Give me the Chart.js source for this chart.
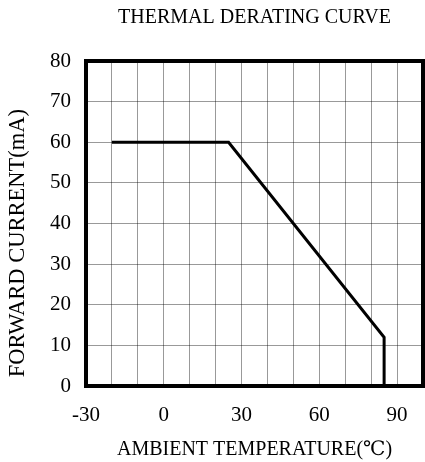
<!DOCTYPE html>
<html>
<head>
<meta charset="utf-8">
<script src="https://cdn.jsdelivr.net/npm/chart.js@4"></script>
<style>
  html, body { margin: 0; padding: 0; background: #fff; }
  #wrap { width: 425px; height: 462px; }
</style>
</head>
<body>
<div id="wrap"><canvas id="myChart"></canvas></div>
<script>
// curve points
var temps = [-20, 25, 85, 85];
var currents = [60, 60, 12, 0];
var xTickLabels = [-30, 0, 30, 60, 90];

var FONT = '"Liberation Serif", "DejaVu Serif", serif';

// thick frame round the plot area
const frame = {
  id: 'frame',
  afterDraw(chart) {
    const a = chart.chartArea;
    const c = chart.ctx;
    c.save();
    c.strokeStyle = '#000';
    c.lineWidth = 4;
    c.strokeRect(a.left, a.top, a.right - a.left, a.bottom - a.top);
    c.restore();
  },
};

const ctx = document.getElementById('myChart');
new Chart(ctx, {
  type: 'scatter',
  data: {
    datasets: [
      {
        data: temps.map((t, i) => ({ x: t, y: currents[i] })),
        showLine: true,
        borderColor: '#000',
        borderWidth: 3,
        pointRadius: 0,
        tension: 0,
      },
    ],
  },
  options: {
    responsive: true,
    maintainAspectRatio: false,
    animation: false,
    layout: { padding: { left: 0, right: 2, top: 0, bottom: 0 } },
    plugins: {
      legend: { display: false },
      tooltip: { enabled: false },
      title: {
        display: true,
        fullSize: false,
        text: 'THERMAL DERATING CURVE',
        color: '#000',
        font: { family: FONT, size: 20, weight: 'normal' },
        padding: { top: 6, bottom: 31 },
        align: 'center',
      },
    },
    scales: {
      x: {
        type: 'linear',
        min: -30,
        max: 100,
        grid: { color: 'rgba(0,0,0,0.4)', lineWidth: 1, drawTicks: false },
        border: { display: false },
        ticks: {
          stepSize: 10,
          autoSkip: false,
          maxRotation: 0,
          padding: 17,
          color: '#000',
          font: { family: FONT, size: 21 },
          callback: (v) => (xTickLabels.includes(v) ? (v < 0 ? '-' + Math.abs(v) : '' + v) : ''),
        },
        title: {
          display: true,
          text: 'AMBIENT TEMPERATURE(℃)',
          color: '#000',
          font: { family: FONT, size: 20 },
          padding: { top: 0, bottom: 0 },
        },
        afterFit: (s) => { s.paddingLeft = 0; s.paddingRight = 0; s.height = 76; },
      },
      y: {
        min: 0,
        max: 80,
        grid: { color: 'rgba(0,0,0,0.4)', lineWidth: 1, drawTicks: false },
        border: { display: false },
        ticks: {
          stepSize: 10,
          padding: 15,
          color: '#000',
          font: { family: FONT, size: 21 },
        },
        title: {
          display: true,
          text: 'FORWARD CURRENT(mA)       ',
          color: '#000',
          font: { family: FONT, size: 22.5 },
          padding: { top: 5, bottom: 4 },
        },
        afterFit: (s) => { s.width = 86; },
      },
    },
  },
  plugins: [frame],
});
</script>
</body>
</html>
